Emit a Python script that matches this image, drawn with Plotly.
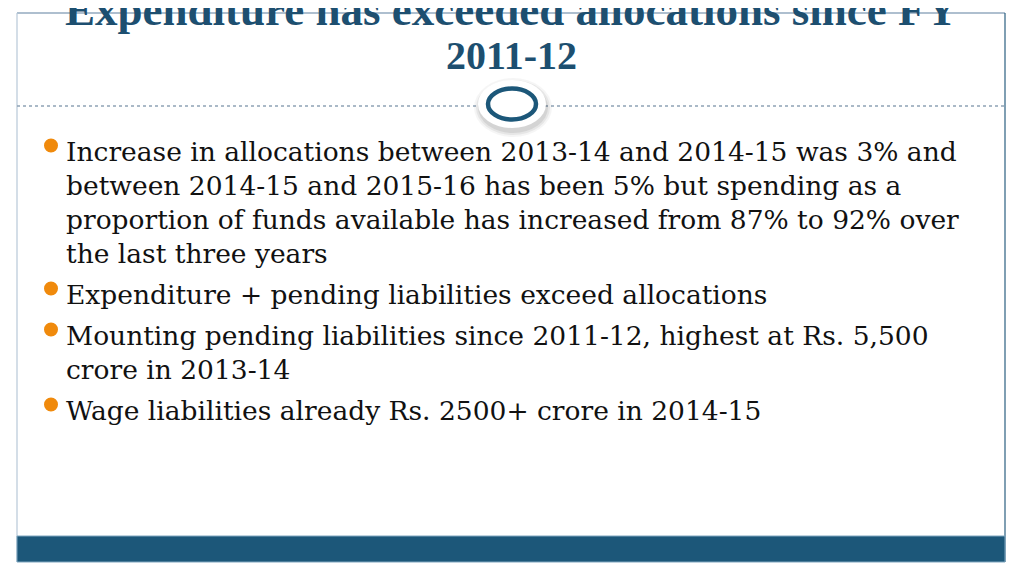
import plotly.graph_objects as go

# ---- slide content ----
title_lines = ["Expenditure has exceeded allocations since FY", "2011-12"]
bullets = [
    ["Increase in allocations between 2013-14 and 2014-15 was 3% and",
     "between 2014-15 and 2015-16 has been 5% but spending as a",
     "proportion of funds available has increased from 87% to 92% over",
     "the last three years"],
    ["Expenditure + pending liabilities exceed allocations"],
    ["Mounting pending liabilities since 2011-12, highest at Rs. 5,500",
     "crore in 2013-14"],
    ["Wage liabilities already Rs. 2500+ crore in 2014-15"],
]

W, H = 1024, 575
OFF = 8  # page body margin
TITLE_COLOR = "#1D4F70"
BAND_COLOR = "#1C5779"
BULLET_COLOR = "#F08A0C"

fig = go.Figure()
fig.add_trace(go.Scatter(x=[100], y=[100], mode="markers", marker=dict(opacity=0),
                         hoverinfo="skip", showlegend=False))

shapes = []
# frame lines
shapes.append(dict(type="line", x0=17, x1=1005, y0=13, y1=13,
                   line=dict(color="#AEBFCF", width=2)))
shapes.append(dict(type="line", x0=17, x1=17, y0=13, y1=562,
                   line=dict(color="#B8C8D8", width=1.2)))
shapes.append(dict(type="line", x0=1005, x1=1005, y0=13, y1=562,
                   line=dict(color="#2A5F80", width=1.2)))
# dotted separator
shapes.append(dict(type="line", x0=17, x1=1005, y0=106, y1=106,
                   line=dict(color="#8FA3B5", width=1.5, dash="dot")))
# bottom band
shapes.append(dict(type="rect", x0=17, x1=1005, y0=536, y1=562,
                   fillcolor=BAND_COLOR, line=dict(color="#7FA6BF", width=1)))
# circle halo / shadow
for d, op in [(12, 0.04), (10, 0.06), (8, 0.08)]:
    shapes.append(dict(type="circle", x0=512 - 26 - d, x1=512 + 26 + d + 2,
                       y0=104 - 17 - d + 3, y1=104 + 17 + d + 4,
                       fillcolor=f"rgba(0,0,0,{op})", line=dict(width=0)))
shapes.append(dict(type="circle", x0=512 - 34, x1=512 + 34,
                   y0=104 - 24, y1=104 + 24,
                   fillcolor="white", line=dict(width=0)))
shapes.append(dict(type="circle", x0=512 - 24, x1=512 + 24,
                   y0=104 - 15.5, y1=104 + 15.5,
                   fillcolor="white", line=dict(color=BAND_COLOR, width=4.5)))

annotations = []
title_pos = [(10, 45), (55, 40)]
for t, (y, sz) in zip(title_lines, title_pos):
    annotations.append(dict(x=511, y=y, xref="x", yref="y", text=t, showarrow=False,
                            xanchor="center", yanchor="middle",
                            font=dict(family="Liberation Serif", size=sz,
                                      color=TITLE_COLOR, weight="bold")))

# bullets
y = 151
for lines in bullets:
    shapes.append(dict(type="circle", x0=44, x1=58, y0=y - 12.5, y1=y + 1.5,
                       fillcolor=BULLET_COLOR, line=dict(width=0)))
    for ln in lines:
        annotations.append(dict(x=64, y=y, xref="x", yref="y", text=ln, showarrow=False,
                                xanchor="left", yanchor="middle",
                                font=dict(family="DejaVu Serif", size=26.5, color="#111111")))
        y += 34
    y += 7

fig.update_layout(
    width=W, height=H, margin=dict(l=0, r=0, t=0, b=0),
    paper_bgcolor="white", plot_bgcolor="white",
    xaxis=dict(range=[OFF, W + OFF], visible=False, fixedrange=True),
    yaxis=dict(range=[H + OFF, OFF], visible=False, fixedrange=True),
    shapes=shapes, annotations=annotations, showlegend=False,
)
fig.write_html("out.html")
